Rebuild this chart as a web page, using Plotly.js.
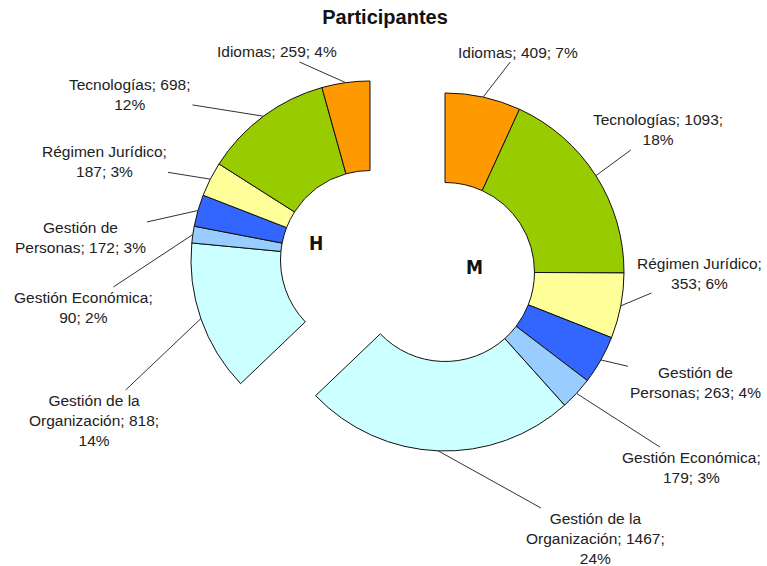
<!DOCTYPE html>
<html>
<head>
<meta charset="utf-8">
<script src="https://cdn.plot.ly/plotly-3.0.1.min.js"></script>
<style>html,body{margin:0;padding:0;background:#fff;}#chart{width:767px;height:566px;}</style>
</head>
<body>
<div id="chart"></div>
<script>
// ---- data ----
const categories = ["Idiomas", "Tecnologías", "Régimen Jurídico", "Gestión de Personas", "Gestión Económica", "Gestión de la Organización"];
const hValues = [259, 698, 187, 172, 90, 818];
const mValues = [409, 1093, 353, 263, 179, 1467];
const seriesNames = ["H", "M"];
const chartTitle = "Participantes";

// ---- styles / layout ----
const colors = ["#FF9900", "#99CC00", "#FFFF99", "#3366FF", "#99CCFF", "#CCFFFF"];
const W = 767, H = 566;
const hDomain = {x: [191 / W, 549 / W], y: [1 - 439 / H, 1 - 81 / H]};
const mDomain = {x: [266 / W, 624 / W], y: [1 - 451 / H, 1 - 93 / H]};
// label text centers (pixels)
const hLabelPos = [[277, 52], [130, 95], [104, 162], [80, 237], [83, 307], [94, 420]];
const mLabelPos = [[518, 52], [658, 130], [699, 273], [695, 382], [691, 467], [595, 538]];
const labelFont = {family: "Liberation Sans, Arial, sans-serif", size: 15.5, color: "#222"};

const hTotal = hValues.reduce((a, b) => a + b, 0);
const mTotal = mValues.reduce((a, b) => a + b, 0);
const total = hTotal + mTotal;

function wrap(str, max) {
  const words = str.split(" ");
  const lines = [];
  let cur = "";
  words.forEach(w => {
    if (cur && (cur + " " + w).length > max) { lines.push(cur); cur = w; }
    else cur = cur ? cur + " " + w : w;
  });
  if (cur) lines.push(cur);
  return lines.join("<br>");
}
function labelText(cat, v) {
  return wrap(cat + "; " + v + "; " + Math.round(v / total * 100) + "%", 19);
}

const hidden = "rgba(0,0,0,0)";
const edge = "#111";
// M ring: its categories clockwise from 12 o'clock, then the H share left empty
const traceM = {
  type: "pie", name: seriesNames[1], sort: false, direction: "clockwise", rotation: 0,
  hole: 0.5, domain: mDomain,
  labels: categories.map(c => "M " + c).concat(["H"]),
  values: mValues.concat([hTotal]),
  marker: {colors: colors.concat([hidden]),
    line: {color: colors.map(() => edge).concat([hidden]), width: colors.map(() => 1).concat([0])}},
  textinfo: "none", hoverinfo: "skip", showlegend: false
};
// H ring: the M share left empty, then H categories in reverse order, clockwise
const traceH = {
  type: "pie", name: seriesNames[0], sort: false, direction: "clockwise", rotation: 0,
  hole: 0.5, domain: hDomain,
  labels: ["M"].concat(categories.map(c => "H " + c).reverse()),
  values: [mTotal].concat(hValues.slice().reverse()),
  marker: {colors: [hidden].concat(colors.slice().reverse()),
    line: {color: [hidden].concat(colors.map(() => edge)), width: [0].concat(colors.map(() => 1))}},
  textinfo: "none", hoverinfo: "skip", showlegend: false
};

function geom(dom) {
  const w = (dom.x[1] - dom.x[0]) * W, h = (dom.y[1] - dom.y[0]) * H;
  return {cx: (dom.x[0] + dom.x[1]) / 2 * W, cy: (1 - (dom.y[0] + dom.y[1]) / 2) * H, r: Math.min(w, h) / 2};
}

const annotations = [];
function addLabels(values, dom, clockwise, pos) {
  const g = geom(dom);
  let cum = 0;
  values.forEach((v, i) => {
    const frac = (cum + v / 2) / total;
    cum += v;
    const ang = (clockwise ? frac : 1 - frac) * 2 * Math.PI;
    const px = g.cx + g.r * Math.sin(ang);
    const py = g.cy - g.r * Math.cos(ang);
    annotations.push({
      xref: "paper", yref: "paper", x: px / W, y: 1 - py / H,
      ax: pos[i][0] - px, ay: pos[i][1] - py, axref: "pixel", ayref: "pixel",
      text: labelText(categories[i], v), font: labelFont, align: "center",
      showarrow: true, arrowhead: 0, arrowwidth: 1, arrowcolor: "#333", standoff: 0, startstandoff: 0
    });
  });
}
addLabels(hValues, hDomain, false, hLabelPos);
addLabels(mValues, mDomain, true, mLabelPos);

const nameFont = {family: "DejaVu Sans Condensed, Liberation Sans, sans-serif", size: 19, color: "#111"};
annotations.push({xref: "paper", yref: "paper", x: 316 / W, y: 1 - 243 / H, text: "<b>" + seriesNames[0] + "</b>",
  showarrow: false, font: nameFont});
annotations.push({xref: "paper", yref: "paper", x: 475 / W, y: 1 - 267 / H, text: "<b>" + seriesNames[1] + "</b>",
  showarrow: false, font: nameFont});

const layout = {
  width: W, height: H, margin: {l: 0, r: 0, t: 0, b: 0},
  paper_bgcolor: "#fff", plot_bgcolor: "#fff", showlegend: false,
  title: {text: "<b>" + chartTitle + "</b>", x: 385 / W, xanchor: "center", xref: "paper",
    y: 1 - 17 / H, yanchor: "middle", yref: "container",
    font: {family: "Liberation Sans, Arial, sans-serif", size: 20, color: "#111"}},
  annotations: annotations
};

Plotly.newPlot("chart", [traceM, traceH], layout, {displayModeBar: false, staticPlot: true});
</script>
</body>
</html>
